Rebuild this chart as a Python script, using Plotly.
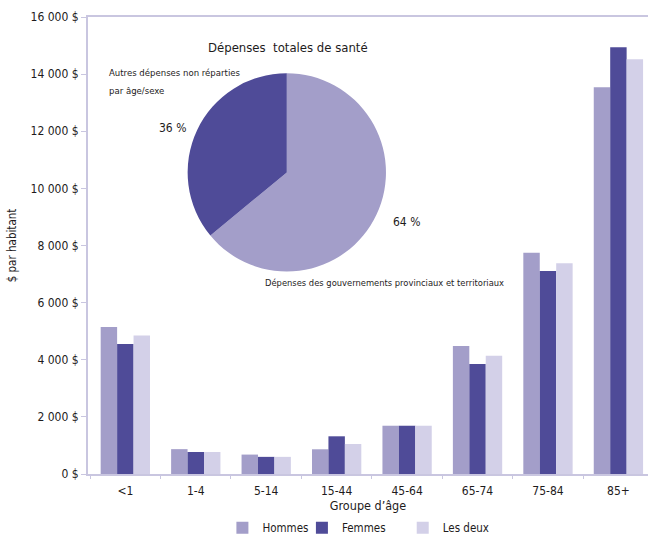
import plotly.graph_objects as go

# Age groups and per-capita spending (dollars) by sex
age_groups = ["<1", "1-4", "5-14", "15-44", "45-64", "65-74", "75-84", "85+"]
hommes = [5150, 870, 680, 865, 1690, 4480, 7750, 13540]
femmes = [4550, 770, 600, 1320, 1690, 3850, 7110, 14940]
les_deux = [4850, 770, 600, 1050, 1690, 4140, 7380, 14520]

# Share of total health spending
pie_labels = ["Dépenses des gouvernements provinciaux et territoriaux",
              "Autres dépenses non réparties par âge/sexe"]
pie_values = [64, 36]

y_ticks = [0, 2000, 4000, 6000, 8000, 10000, 12000, 14000, 16000]
y_tick_text = ["0 $", "2 000 $", "4 000 $", "6 000 $", "8 000 $",
               "10 000 $", "12 000 $", "14 000 $", "16 000 $"]

C_H = "#a39ec9"
C_F = "#4f4b98"
C_D = "#d3d0e8"
AXIS = "#c9c6e0"
FONT = "DejaVu Sans Condensed, DejaVu Sans, sans-serif"
INK = "#1e1b1c"

fig = go.Figure()
for name, vals, col, lg in [("Hommes", hommes, C_H, "legend"),
                            ("Femmes", femmes, C_F, "legend2"),
                            ("Les deux", les_deux, C_D, "legend3")]:
    fig.add_trace(go.Bar(x=age_groups, y=vals, name=name, marker_color=col,
                         marker_line_width=0, legend=lg))

fig.add_trace(go.Pie(labels=pie_labels, values=pie_values, sort=False,
                     direction="clockwise", rotation=0,
                     marker=dict(colors=[C_H, C_F], line=dict(width=0)),
                     textinfo="none", hoverinfo="label+percent",
                     showlegend=False,
                     domain=dict(x=[0.165, 0.545], y=[0.443, 0.877])))

leg_common = dict(orientation="h", yanchor="middle", xanchor="left",
                  yref="container", xref="paper",
                  font=dict(family=FONT, size=11.5, color=INK),
                  bgcolor="rgba(0,0,0,0)", itemwidth=30, y=0.019)

fig.update_layout(
    width=648, height=538,
    margin=dict(l=88, r=0, t=17, b=64, autoexpand=False),
    paper_bgcolor="white", plot_bgcolor="white",
    font=dict(family=FONT, size=12, color=INK),
    barmode="group", bargap=0.30, bargroupgap=0.0,
    legend=dict(x=0.240, **leg_common),
    legend2=dict(x=0.382, **leg_common),
    legend3=dict(x=0.562, **leg_common),
    xaxis=dict(range=[-0.53, 7.42], showline=True, linecolor=AXIS, linewidth=2,
               mirror=True,
               ticks="outside", tickcolor=AXIS, ticklen=3,
               tickson="boundaries", tickfont=dict(size=12),
               ticklabelstandoff=5,
               title=dict(text="Groupe d’âge", font=dict(size=12.5), standoff=4),
               fixedrange=True),
    yaxis=dict(range=[0, 16000], tickvals=y_ticks, ticktext=y_tick_text,
               showline=True, linecolor=AXIS, linewidth=2, showgrid=False,
               ticks="outside", tickcolor=AXIS, ticklen=5, zeroline=False,
               tickfont=dict(size=12),
               title=dict(text="$ par habitant", font=dict(size=11.5), standoff=12)),
    showlegend=True,
)

ann = [
    dict(text="Dépenses  totales de santé", x=0.357, y=0.933, size=13, xanchor="center"),
    dict(text="Autres dépenses non réparties", x=0.034, y=0.878, size=9.5, xanchor="left"),
    dict(text="par âge/sexe", x=0.034, y=0.839, size=9.5, xanchor="left"),
    dict(text=f"{pie_values[1]} %", x=0.151, y=0.757, size=12, xanchor="center"),
    dict(text=f"{pie_values[0]} %", x=0.569, y=0.551, size=12, xanchor="center"),
    dict(text=pie_labels[0], x=0.312, y=0.42, size=9.3, xanchor="left"),
]
for a in ann:
    fig.add_annotation(text=a["text"], x=a["x"], y=a["y"], xref="paper", yref="paper",
                       xanchor=a["xanchor"], yanchor="middle", showarrow=False,
                       align="left", font=dict(family=FONT, size=a["size"], color=INK))

fig.write_html("out.html")
